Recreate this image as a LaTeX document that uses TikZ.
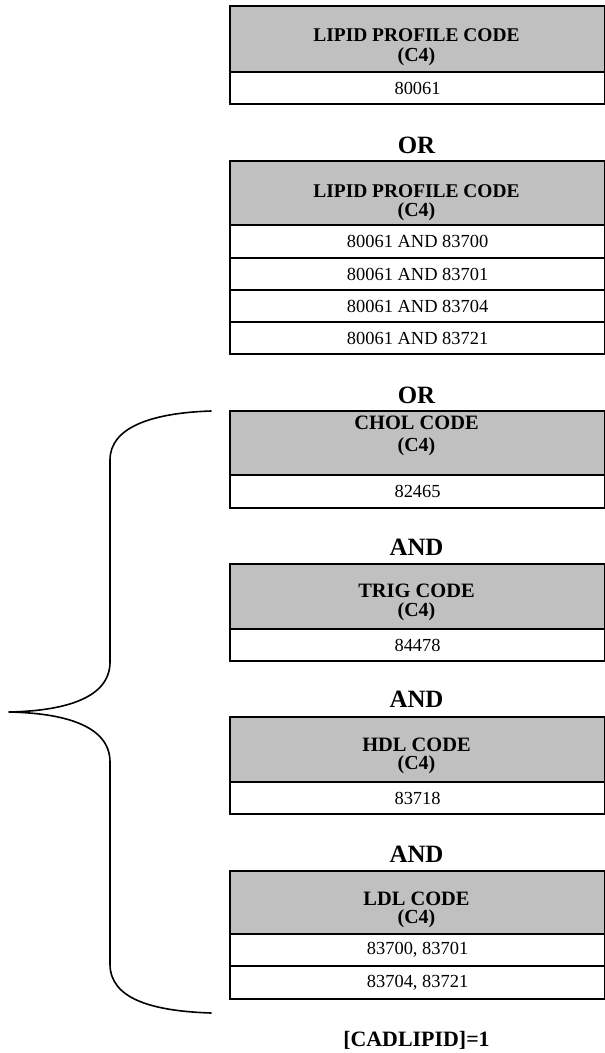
\documentclass[tikz,border=0pt]{standalone}
\usepackage{fontspec}
\setmainfont{Liberation Serif}
\definecolor{hdrgray}{HTML}{C0C0C0}
\begin{document}
\begin{tikzpicture}[x=1bp,y=-1bp,
  cell/.style={draw=black, line width=2.2bp, minimum width=375bp, inner sep=0pt, anchor=north west, font=\fontsize{18.5}{22}\selectfont},
  hdr/.style={cell, fill=hdrgray},
  lbl/.style={font=\bfseries\fontsize{20.5}{24}\selectfont, inner sep=0pt},
  lipid/.style={lbl, font=\bfseries\fontsize{19.5}{23}\selectfont},
  sub/.style={font=\bfseries\fontsize{20}{24}\selectfont, inner sep=0pt},
  conj/.style={font=\bfseries\fontsize{25}{30}\selectfont, inner sep=0pt},
  result/.style={font=\bfseries\fontsize{22}{26}\selectfont, inner sep=0pt},
  bracepath/.style={line width=1.6bp, line cap=round, line join=round}
]
\useasboundingbox (0,0) rectangle (605,1053);

% Table 1
\node[hdr, minimum height=66bp] (t1h) at (229,5) {};
\node[lipid] (t1a) at (416.5,35) {LIPID PROFILE CODE};
\node[sub] (t1b) at (416.5,57) {(C4)};
\node[cell, minimum height=32bp] (t1r1) at (229,71) {80061};

\node[conj] (or1) at (416.5,145) {OR};

% Table 2
\node[hdr, minimum height=64bp] (t2h) at (229,160) {};
\node[lipid] (t2a) at (416.5,191) {LIPID PROFILE CODE};
\node[sub] (t2b) at (416.5,212) {(C4)};
\node[cell, minimum height=33bp] (t2r1) at (229,224) {80061 AND 83700};
\node[cell, minimum height=32bp] (t2r2) at (229,257) {80061 AND 83701};
\node[cell, minimum height=32bp] (t2r3) at (229,289) {80061 AND 83704};
\node[cell, minimum height=32bp] (t2r4) at (229,321) {80061 AND 83721};

\node[conj] (or2) at (416.5,395) {OR};

% Table 3
\node[hdr, minimum height=64bp] (t3h) at (229,410) {};
\node[lbl] (t3a) at (416.5,423) {CHOL CODE};
\node[sub] (t3b) at (416.5,447) {(C4)};
\node[cell, minimum height=33bp] (t3r1) at (229,474) {82465};

\node[conj] (and1) at (416.5,547) {AND};

% Table 4
\node[hdr, minimum height=65bp] (t4h) at (229,563) {};
\node[lbl] (t4a) at (416.5,591) {TRIG CODE};
\node[sub] (t4b) at (416.5,612) {(C4)};
\node[cell, minimum height=32bp] (t4r1) at (229,628) {84478};

\node[conj] (and2) at (416.5,699) {AND};

% Table 5
\node[hdr, minimum height=65bp] (t5h) at (229,716) {};
\node[lbl] (t5a) at (416.5,745) {HDL CODE};
\node[sub] (t5b) at (416.5,765) {(C4)};
\node[cell, minimum height=32bp] (t5r1) at (229,781) {83718};

\node[conj] (and3) at (416.5,854) {AND};

% Table 6
\node[hdr, minimum height=63bp] (t6h) at (229,870) {};
\node[lbl] (t6a) at (416.5,899) {LDL CODE};
\node[sub] (t6b) at (416.5,919) {(C4)};
\node[cell, minimum height=32bp] (t6r1) at (229,933) {83700, 83701};
\node[cell, minimum height=33bp] (t6r2) at (229,965) {83704, 83721};

\node[result] (res) at (416.5,1040) {[CADLIPID]=1};

% Brace
\coordinate (btop) at (211,411);
\coordinate (btip) at (9,712);
\coordinate (bbot) at (211,1013);
\draw[bracepath] (btop) .. controls (150,413) and (110,428) .. (110,460)
  -- (110,662) .. controls (110,700) and (60,711) .. (btip)
  .. controls (60,713) and (110,724) .. (110,762)
  -- (110,964) .. controls (110,998) and (150,1011) .. (bbot);
\end{tikzpicture}
\end{document}
